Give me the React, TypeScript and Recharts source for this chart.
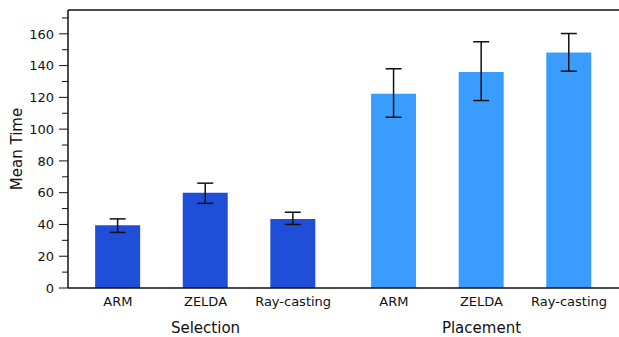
import React from "react";
import {
  BarChart,
  Bar,
  Cell,
  XAxis,
  YAxis,
  ErrorBar,
  ReferenceLine,
} from "recharts";

const groupNames = ["Selection", "Placement"];
const techniqueNames = ["ARM", "ZELDA", "Ray-casting"];

const selectionMeans = [39.5, 60, 43.5];
const selectionLow = [35, 53.3, 40];
const selectionHigh = [43.5, 66, 47.7];

const placementMeans = [122.3, 136, 148.3];
const placementLow = [107.5, 118, 136.5];
const placementHigh = [138, 155, 160.2];

const yMax = 175;
const yTicks = Array.from({ length: 18 }, (_, i) => i * 10);

const colorList = ["#1f4fd9", "#3a9dfd"];
const font = "'DejaVu Sans', sans-serif";
const groupGap = 3.15;

type Row = {
  pos: number;
  name: string;
  group: number;
  value: number;
  err: [number, number];
};

const buildRows = (): Row[] => {
  const rows: Row[] = [];
  const series = [
    { means: selectionMeans, low: selectionLow, high: selectionHigh },
    { means: placementMeans, low: placementLow, high: placementHigh },
  ];
  series.forEach((s, g) => {
    techniqueNames.forEach((name, i) => {
      rows.push({
        pos: g * groupGap + i,
        name,
        group: g,
        value: s.means[i],
        err: [s.means[i] - s.low[i], s.high[i] - s.means[i]],
      });
    });
  });
  return rows;
};

const rows = buildRows();

const XTick = (props: any) => {
  const { x, y, payload } = props;
  const row = rows.find((r) => Math.abs(r.pos - payload.value) < 0.001);
  if (!row) return null;
  const isMiddle = row.name === techniqueNames[1];
  return (
    <g>
      <text x={x} y={y + 18} textAnchor="middle" fontSize={13} fontFamily={font} fill="#111">
        {row.name}
      </text>
      {isMiddle && (
        <text x={x} y={y + 45} textAnchor="middle" fontSize={15} fontFamily={font} fill="#111">
          {groupNames[row.group]}
        </text>
      )}
    </g>
  );
};

const YTick = (props: any) => {
  const { x, y, payload } = props;
  const major = payload.value % 20 === 0;
  return (
    <g>
      <line x1={x - (major ? 9 : 6)} x2={x} y1={y} y2={y} stroke="#111" strokeWidth={1} />
      {major && (
        <text x={x - 14} y={y} dy="0.36em" textAnchor="end" fontSize={13} fontFamily={font} fill="#111">
          {payload.value}
        </text>
      )}
    </g>
  );
};

const App = () => {
  return (
    <div style={{ position: "absolute", left: 0, top: 0 }}>
      <BarChart
        width={619}
        height={337}
        data={rows}
        margin={{ top: 10, right: 0, left: 0, bottom: 0 }}
      >
        <XAxis
          dataKey="pos"
          type="number"
          domain={[-0.57, 5.72]}
          ticks={rows.map((r) => r.pos)}
          interval={0}
          height={49}
          tickLine={false}
          tickSize={0}
          tickMargin={0}
          tick={<XTick />}
          axisLine={{ stroke: "#111", strokeWidth: 1.5 }}
          allowDataOverflow
        />
        <YAxis
          type="number"
          domain={[0, yMax]}
          ticks={yTicks}
          interval={0}
          width={68}
          tickLine={false}
          tickSize={0}
          tickMargin={0}
          tick={<YTick />}
          axisLine={{ stroke: "#111", strokeWidth: 1.5 }}
          label={{
            content: () => (
              <text
                x={17}
                y={149}
                transform="rotate(-90 17 149)"
                textAnchor="middle"
                dominantBaseline="central"
                fontSize={15}
                fontFamily={font}
                fill="#111"
              >
                Mean Time
              </text>
            ),
          }}
        />
        <ReferenceLine y={yMax} stroke="#111" strokeWidth={1.5} />
        <Bar dataKey="value" barSize={45} isAnimationActive={false}>
          {rows.map((r) => (
            <Cell key={`${r.group}-${r.name}`} fill={colorList[r.group]} />
          ))}
          <ErrorBar dataKey="err" width={8} stroke="#111" strokeWidth={1.5} />
        </Bar>
      </BarChart>
    </div>
  );
};

export default App;
